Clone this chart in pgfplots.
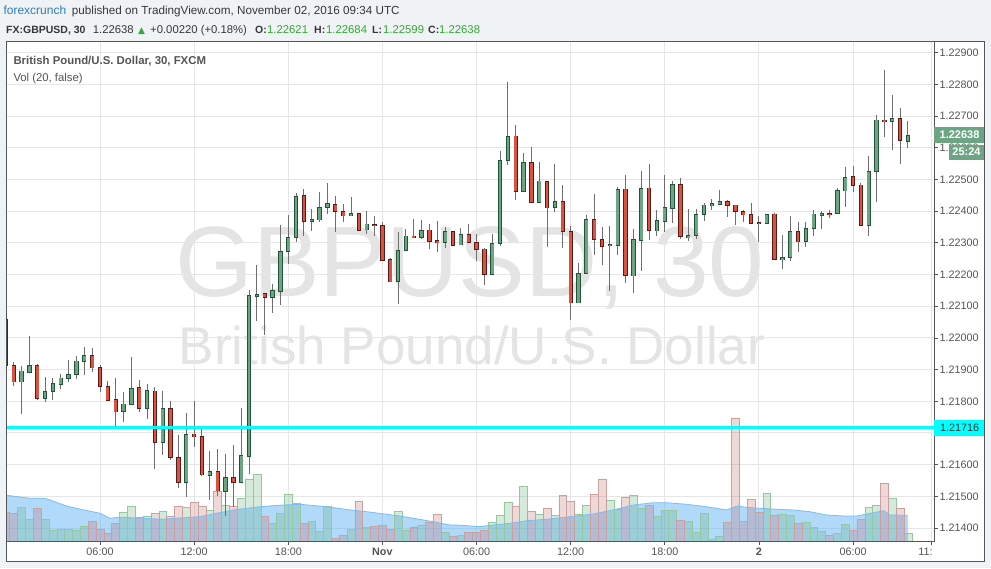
\documentclass[border=0pt]{standalone}
\usepackage{pgfplots}
\pgfplotsset{compat=1.18}
\usepackage{pgfplotstable}
\usepackage{fontspec}
\setmainfont{Liberation Sans}
\newfontfamily\dejavu{DejaVu Sans}

\definecolor{bgouter}{RGB}{240,243,246}
\definecolor{framec}{RGB}{85,85,85}
\definecolor{gridc}{RGB}{230,230,230}
\definecolor{wick}{RGB}{110,110,110}
\definecolor{gfill}{RGB}{107,165,131}
\definecolor{gdark}{RGB}{34,84,55}
\definecolor{rfill}{RGB}{215,84,66}
\definecolor{rdark}{RGB}{91,26,19}
\definecolor{labc}{RGB}{85,85,85}
\definecolor{wm}{RGB}{228,228,228}
\definecolor{cyanline}{RGB}{0,255,255}
\definecolor{mafill}{RGB}{100,180,245}
\definecolor{maline}{RGB}{120,190,245}
\definecolor{volg}{RGB}{95,175,115}
\definecolor{volgb}{RGB}{150,200,160}
\definecolor{volr}{RGB}{195,100,100}
\definecolor{volrb}{RGB}{205,160,160}
\definecolor{fcblue}{RGB}{45,125,185}
\definecolor{hdr}{RGB}{55,55,55}
\definecolor{upgreen}{RGB}{52,168,52}

% 30-minute GBPUSD candles, i = half-hours from 31 Oct 00:00, d = 1 up / 0 down, V = volume (relative)
\pgfplotstableread{
i d O H L C V
0 0 1.22059 1.22065 1.21905 1.21914 29.7
1 0 1.21914 1.21924 1.21849 1.21863 28.4
2 1 1.21863 1.21911 1.21761 1.21896 34.4
3 1 1.21893 1.22006 1.21890 1.21914 22.7
4 0 1.21914 1.21918 1.21806 1.21811 33.4
5 1 1.21811 1.21877 1.21799 1.21832 22.4
6 1 1.21832 1.21874 1.21804 1.21855 11.7
7 1 1.21854 1.21886 1.21840 1.21873 12.7
8 1 1.21873 1.21933 1.21862 1.21885 12.7
9 1 1.21885 1.21943 1.21870 1.21926 11.7
10 1 1.21926 1.21971 1.21883 1.21945 15.7
11 0 1.21945 1.21968 1.21893 1.21907 20.7
12 0 1.21907 1.21915 1.21830 1.21847 12.7
13 0 1.21847 1.21864 1.21802 1.21805 8.4
14 0 1.21806 1.21874 1.21712 1.21768 18.4
15 1 1.21768 1.21829 1.21737 1.21791 29.4
16 1 1.21791 1.21940 1.21791 1.21841 35.4
17 0 1.21841 1.21867 1.21768 1.21778 24.7
18 1 1.21778 1.21855 1.21743 1.21832 25.7
19 0 1.21832 1.21848 1.21587 1.21671 28.4
20 1 1.21671 1.21833 1.21631 1.21778 30.7
21 0 1.21778 1.21801 1.21616 1.21623 25.4
22 0 1.21623 1.21694 1.21527 1.21546 35.4
23 1 1.21546 1.21763 1.21499 1.21696 34.4
24 0 1.21696 1.21801 1.21657 1.21688 39.7
25 0 1.21688 1.21714 1.21565 1.21568 35.4
26 1 1.21568 1.21643 1.21489 1.21579 31.7
27 0 1.21579 1.21649 1.21501 1.21518 50.7
28 1 1.21518 1.21634 1.21439 1.21560 36.4
29 0 1.21560 1.21662 1.21467 1.21546 35.0
30 1 1.21546 1.21779 1.21546 1.21630 43.4
31 1 1.21628 1.22151 1.21572 1.22134 62.7
32 1 1.22133 1.22233 1.22054 1.22138 67.7
33 0 1.22138 1.22140 1.22010 1.22128 25.4
34 1 1.22128 1.22173 1.22080 1.22150 18.4
35 1 1.22150 1.22357 1.22105 1.22274 28.4
36 1 1.22274 1.22389 1.22234 1.22318 47.4
37 1 1.22318 1.22460 1.22303 1.22447 38.4
38 0 1.22447 1.22472 1.22324 1.22368 18.4
39 1 1.22368 1.22406 1.22336 1.22374 20.7
40 1 1.22374 1.22463 1.22367 1.22412 10.4
41 1 1.22412 1.22491 1.22393 1.22422 35.0
42 0 1.22422 1.22448 1.22335 1.22400 3.7
43 0 1.22400 1.22422 1.22367 1.22387 6.4
44 1 1.22387 1.22445 1.22386 1.22393 12.7
45 0 1.22393 1.22396 1.22338 1.22342 40.7
46 1 1.22342 1.22403 1.22329 1.22359 14.0
47 0 1.22359 1.22384 1.22323 1.22355 15.0
48 0 1.22355 1.22368 1.22244 1.22247 16.7
49 0 1.22248 1.22254 1.22179 1.22179 12.7
50 1 1.22179 1.22334 1.22106 1.22276 30.0
51 1 1.22276 1.22346 1.22276 1.22321 11.7
52 0 1.22321 1.22377 1.22318 1.22318 14.0
53 1 1.22319 1.22374 1.22313 1.22340 16.4
54 0 1.22340 1.22362 1.22282 1.22305 19.7
55 0 1.22306 1.22368 1.22270 1.22302 27.4
56 1 1.22302 1.22349 1.22283 1.22336 9.4
57 0 1.22336 1.22336 1.22295 1.22295 5.7
58 1 1.22295 1.22346 1.22292 1.22327 6.0
59 0 1.22327 1.22359 1.22299 1.22302 9.0
60 0 1.22302 1.22327 1.22244 1.22280 9.7
61 0 1.22280 1.22286 1.22168 1.22201 11.7
62 1 1.22201 1.22330 1.22201 1.22299 19.4
63 1 1.22299 1.22589 1.22292 1.22561 26.4
64 1 1.22561 1.22810 1.22548 1.22636 39.7
65 0 1.22636 1.22674 1.22436 1.22463 35.4
66 1 1.22463 1.22586 1.22463 1.22554 55.4
67 0 1.22554 1.22602 1.22425 1.22428 30.7
68 1 1.22428 1.22557 1.22428 1.22494 27.4
69 0 1.22494 1.22494 1.22288 1.22412 33.4
70 1 1.22412 1.22551 1.22398 1.22431 26.4
71 0 1.22431 1.22482 1.22285 1.22336 46.4
72 0 1.22336 1.22355 1.22059 1.22112 40.7
73 1 1.22112 1.22239 1.22112 1.22204 27.4
74 1 1.22204 1.22387 1.22204 1.22374 36.4
75 0 1.22374 1.22456 1.22264 1.22311 47.4
76 0 1.22311 1.22352 1.22229 1.22292 62.7
77 1 1.22292 1.22355 1.22150 1.22294 41.7
78 1 1.22292 1.22478 1.22263 1.22469 32.7
79 0 1.22469 1.22516 1.22175 1.22197 44.4
80 1 1.22197 1.22344 1.22143 1.22311 46.4
81 1 1.22311 1.22528 1.22212 1.22472 33.4
82 0 1.22472 1.22549 1.22309 1.22340 36.4
83 1 1.22340 1.22404 1.22322 1.22371 25.4
84 1 1.22371 1.22515 1.22335 1.22412 31.7
85 1 1.22412 1.22495 1.22364 1.22485 31.7
86 0 1.22485 1.22507 1.22313 1.22322 21.7
87 1 1.22319 1.22409 1.22307 1.22324 20.7
88 1 1.22324 1.22407 1.22311 1.22390 9.4
89 1 1.22390 1.22428 1.22370 1.22419 28.4
90 1 1.22419 1.22439 1.22404 1.22423 2.4
91 1 1.22422 1.22467 1.22422 1.22431 5.4
92 0 1.22431 1.22435 1.22381 1.22419 19.4
93 0 1.22419 1.22419 1.22357 1.22400 123.7
94 0 1.22400 1.22404 1.22367 1.22390 20.7
95 0 1.22390 1.22428 1.22362 1.22362 42.4
96 0 1.22363 1.22385 1.22304 1.22362 29.7
97 1 1.22362 1.22393 1.22359 1.22390 48.7
98 0 1.22390 1.22396 1.22248 1.22248 26.4
99 1 1.22248 1.22324 1.22217 1.22254 27.4
100 1 1.22254 1.22385 1.22244 1.22336 26.4
101 0 1.22336 1.22366 1.22272 1.22305 18.4
102 1 1.22305 1.22366 1.22288 1.22346 19.4
103 1 1.22346 1.22404 1.22323 1.22390 14.4
104 1 1.22390 1.22401 1.22345 1.22394 10.4
105 0 1.22394 1.22404 1.22379 1.22393 6.4
106 1 1.22393 1.22472 1.22393 1.22466 8.4
107 1 1.22466 1.22539 1.22414 1.22507 17.4
108 0 1.22507 1.22543 1.22462 1.22482 11.4
109 0 1.22482 1.22488 1.22355 1.22355 22.7
110 1 1.22355 1.22576 1.22323 1.22526 34.4
111 1 1.22526 1.22703 1.22430 1.22687 36.4
112 0 1.22687 1.22845 1.22635 1.22684 58.4
113 1 1.22684 1.22769 1.22595 1.22693 43.4
114 0 1.22693 1.22728 1.22550 1.22624 33.4
115 1 1.22621 1.22684 1.22599 1.22638 8.4
}\candles

% Vol (20) moving average, same units as V
\pgfplotstableread{
i m
0 46.5
3 43.5
4.8 43.5
5.6 41.7
7.8 35.5
9.8 32
12 28.4
13.3 23.4
14.5 24.5
18.4 23
20 22.5
24.7 25
29 31.7
32.4 35
35.4 36.7
37.5 37.4
40.9 35
43.9 31.7
46 30
50.2 25.7
54.5 20
56.6 16.7
58 16.5
60.4 15
62.1 16.7
64.3 18.4
66.4 21
68.9 22.4
71.9 25
74.9 27.7
77.4 31.7
80 36.7
82.5 39
84.2 39
86.8 37.4
89.3 35
91.9 31.7
93.2 35.7
94.4 34.4
96.1 33.4
98.3 32.4
100.4 31.7
102.5 30
104.6 26.7
106.8 25.7
108.5 25.7
110.2 28.4
111.9 31
112.7 26.7
115 26.4
}\volma

\pgfplotsset{
  panel/.style={at={(6.5pt,26.3pt)}, anchor=south west, width=927.5pt, height=499.7pt,
    scale only axis, xmin=0.08, xmax=118.32},
  price/.style={ymin=1.213569, ymax=1.229338},
  body/.style={draw=none, mark=none, error bars/y dir=both, error bars/y explicit,
    error bars/error mark=none, error bars/error bar style={#1}},
}

\begin{document}
\begin{tikzpicture}[x=1pt,y=1pt]
\path[use as bounding box, fill=bgouter] (0,0) rectangle (991,568);
\fill[white] (6.5,6.3) rectangle (984,526);
\draw[framec, line width=1pt] (6.5,6.3) rectangle (984,526);

% watermark
\node[anchor=base, inner sep=0, text=wm, font=\fontsize{100}{100}\selectfont] at (470,271) {GBPUSD, 30};
\node[anchor=base, inner sep=0, text=wm, font=\fontsize{53}{53}\selectfont] at (472,203) {British Pound/U.S. Dollar};

% grid, ticks, labels
\begin{axis}[panel, price,
  axis line style={draw=framec, line width=1pt},
  grid=major, major grid style={draw=gridc, line width=1pt},
  xtick={0,12,24,36,48,60,72,84,96,108,118},
  xticklabels={\phantom{3}1, 06:00, 12:00, 18:00, \textbf{Nov}, 06:00, 12:00, 18:00, \textbf{2}, 06:00, 11:\phantom{00}},
  ytick={1.214,1.215,1.216,1.217,1.218,1.219,1.220,1.221,1.222,1.223,1.224,1.225,1.226,1.227,1.228,1.229},
  yticklabels={1.21400,1.21500,1.21600,{},1.21800,1.21900,1.22000,1.22100,1.22200,1.22300,1.22400,1.22500,1.22600,1.22700,1.22800,1.22900},
  xtick pos=bottom, ytick pos=right, yticklabel pos=right,
  tick align=outside, major tick length=3.5pt,
  tick style={draw=framec, line width=0.8pt},
  ticklabel style={font=\fontsize{10.8}{12}\selectfont, text=labc},
  yticklabel style={anchor=west, inner sep=0pt, xshift=2pt},
  xticklabel style={anchor=north, inner sep=0pt, yshift=-3pt},
  /pgf/number format/assume math mode=true,
]
\end{axis}

% volume with its 20-bar average
\begin{axis}[panel, ymin=0, ymax=499.7, hide axis]
\addplot[draw=none, fill=mafill, fill opacity=0.5] table[x=i, y=m]{\volma} \closedcycle;
\addplot[ybar, bar width=1, bar shift=0pt, fill=volg, fill opacity=0.25, draw=volgb, line width=0.6pt,
  restrict expr to domain={\thisrow{d}}{0.5:1.5}] table[x=i, y=V]{\candles};
\addplot[ybar, bar width=1, bar shift=0pt, fill=volr, fill opacity=0.25, draw=volrb, line width=0.6pt,
  restrict expr to domain={\thisrow{d}}{-0.5:0.5}] table[x=i, y=V]{\candles};
\addplot[draw=maline, line width=0.8pt, mark=none] table[x=i, y=m]{\volma};
\end{axis}

% candles: wick, dark outline, then fill
\begin{axis}[panel, price, xtick=\empty, ytick=\empty,
  axis line style={draw=framec, line width=1pt}, axis on top]
\addplot[body={draw=wick, line width=1pt}]
  table[x=i, y expr={(\thisrow{H}+\thisrow{L})/2}, y error expr={(\thisrow{H}-\thisrow{L})/2}]{\candles};
\addplot[restrict expr to domain={\thisrow{d}}{0.5:1.5}, body={draw=gdark, line width=4.3pt}]
  table[x=i, y expr={(\thisrow{O}+\thisrow{C})/2}, y error expr={abs(\thisrow{C}-\thisrow{O})/2+0.000022}]{\candles};
\addplot[restrict expr to domain={\thisrow{d}}{0.5:1.5}, body={draw=gfill, line width=2.7pt}]
  table[x=i, y expr={(\thisrow{O}+\thisrow{C})/2}, y error expr={max(abs(\thisrow{C}-\thisrow{O})/2-0.000004,0)}]{\candles};
\addplot[restrict expr to domain={\thisrow{d}}{-0.5:0.5}, body={draw=rdark, line width=4.3pt}]
  table[x=i, y expr={(\thisrow{O}+\thisrow{C})/2}, y error expr={abs(\thisrow{C}-\thisrow{O})/2+0.000022}]{\candles};
\addplot[restrict expr to domain={\thisrow{d}}{-0.5:0.5}, body={draw=rfill, line width=2.7pt}]
  table[x=i, y expr={(\thisrow{O}+\thisrow{C})/2}, y error expr={max(abs(\thisrow{C}-\thisrow{O})/2-0.000004,0)}]{\candles};
\addplot[cyanline, line width=3pt, mark=none] coordinates {(0.08,1.21716) (118.32,1.21716)};
\end{axis}

% price flags on the scale
\fill[gfill] (934,425.3) rectangle (984,440.7);
\node[anchor=west, inner sep=0, text=white, font=\bfseries\fontsize{11}{12}\selectfont] at (939.5,433) {1.22638};
\fill[gfill] (949,408.3) rectangle (984,423.3);
\node[anchor=center, inner sep=0, text=white, font=\bfseries\fontsize{11}{12}\selectfont] at (966.5,415.8) {25:24};
\fill[cyanline] (934,132) rectangle (984,148);
\node[anchor=west, inner sep=0, text=hdr, font=\fontsize{10.8}{12}\selectfont] at (940,140) {1.21716};

% legend texts
\node[anchor=base west, inner sep=0, text=labc, font=\bfseries\fontsize{11.4}{13}\selectfont] at (13.3,503) {British Pound/U.S. Dollar, 30, FXCM};
\node[anchor=base west, inner sep=0, text=labc, font=\fontsize{11.3}{13}\selectfont] at (13.3,486.3) {Vol (20, false)};

% header
\node[anchor=base west, inner sep=0, text=fcblue, font=\fontsize{12}{14}\selectfont] at (3.3,553) {forexcrunch};
\node[anchor=base west, inner sep=0, text=hdr, font=\fontsize{11.7}{14}\selectfont] at (71.7,553) {published on TradingView.com, November 02, 2016 09:34 UTC};
\begin{scope}[every node/.style={anchor=base west, inner sep=0, font=\fontsize{11.3}{13}\selectfont, text=hdr}]
\node[font=\bfseries\fontsize{10.5}{13}\selectfont] at (6,534.7) {FX:GBPUSD, 30};
\node at (92.7,534.7) {1.22638};
\node[text=upgreen, font=\dejavu\fontsize{9}{10}\selectfont] at (138,534.7) {▲};
\node at (150,534.7) {+0.00220 (+0.18\%)};
\node[font=\bfseries\fontsize{10.5}{13}\selectfont] at (255,534.7) {O:};
\node[text=upgreen] at (267,534.7) {1.22621};
\node[font=\bfseries\fontsize{10.5}{13}\selectfont] at (314,534.7) {H:};
\node[text=upgreen] at (326,534.7) {1.22684};
\node[font=\bfseries\fontsize{10.5}{13}\selectfont] at (372,534.7) {L:};
\node[text=upgreen] at (383,534.7) {1.22599};
\node[font=\bfseries\fontsize{10.5}{13}\selectfont] at (428,534.7) {C:};
\node[text=upgreen] at (439,534.7) {1.22638};
\end{scope}
\end{tikzpicture}
\end{document}
